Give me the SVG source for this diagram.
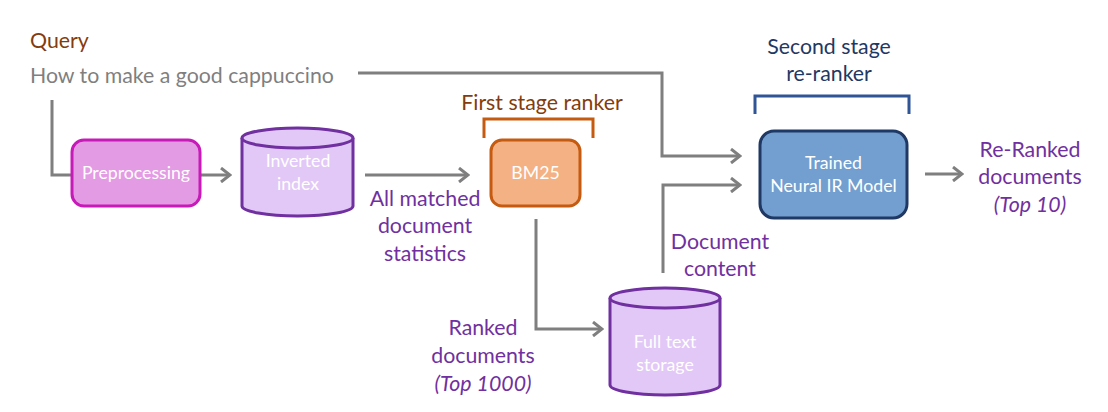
<svg xmlns="http://www.w3.org/2000/svg" width="1108" height="412" viewBox="0 0 1108 412">
<style>
text{font-family:Lato,"Open Sans","DejaVu Sans",sans-serif;}
.lbl{font-size:21.3px;fill:#7030a0;text-anchor:middle;}
.it{font-style:italic;}
.wt{font-size:17.7px;fill:#ffffff;text-anchor:middle;}
.conn{fill:none;stroke:#7f7f7f;stroke-width:3;}
</style>
<defs>
<marker id="ah" viewBox="0 0 12 16" refX="10" refY="8" markerWidth="12" markerHeight="16" markerUnits="userSpaceOnUse" orient="auto">
<path d="M1,1 L10,8 L1,15" fill="none" stroke="#7f7f7f" stroke-width="3"/>
</marker>
</defs>
<rect width="1108" height="412" fill="#ffffff"/>
<g id="query">
<text x="30" y="48" style="font-size:21.3px;fill:#843c0c">Query</text>
<text x="30" y="83" style="font-size:21.3px;fill:#7f7f7f">How to make a good cappuccino</text>
</g>
<g id="connectors">
<path class="conn" d="M52,100 V175 H72"/>
<path class="conn" d="M201,175 H230" marker-end="url(#ah)"/>
<path class="conn" d="M365,175 H468" marker-end="url(#ah)"/>
<path class="conn" d="M536,219 V329 H602" marker-end="url(#ah)"/>
<path class="conn" d="M358,73 H662 V156 H740" marker-end="url(#ah)"/>
<path class="conn" d="M663,273 V185 H740" marker-end="url(#ah)"/>
<path class="conn" d="M925,174 H962" marker-end="url(#ah)"/>
</g>
<g id="preprocessing">
<rect x="72" y="140" width="128" height="66" rx="12" fill="#e39be3" stroke="#c71ab9" stroke-width="3"/>
<text class="wt" x="136" y="179">Preprocessing</text>
</g>
<g id="inverted-index">
<path d="M242,138 V206 A55.5,10 0 0 0 353,206 V138" fill="#e2c8f6" stroke="#7030a0" stroke-width="3"/>
<ellipse cx="297.5" cy="138" rx="55.5" ry="10" fill="#e2c8f6" stroke="#7030a0" stroke-width="3"/>
<text class="wt" x="298" y="167">Inverted</text>
<text class="wt" x="298" y="190">index</text>
</g>
<g id="all-matched">
<text class="lbl" x="425" y="206">All matched</text>
<text class="lbl" x="425" y="233">document</text>
<text class="lbl" x="425" y="261">statistics</text>
</g>
<g id="first-stage">
<text x="542" y="110" style="font-size:21.3px;fill:#843c0c;text-anchor:middle">First stage ranker</text>
<path d="M484,138 V119 H593 V138" fill="none" stroke="#c55a11" stroke-width="3"/>
</g>
<g id="bm25">
<rect x="491" y="140" width="89" height="66" rx="11" fill="#f4b183" stroke="#c55a11" stroke-width="3"/>
<text class="wt" x="535.5" y="179">BM25</text>
</g>
<g id="ranked-docs">
<text class="lbl" x="483" y="335">Ranked</text>
<text class="lbl" x="483" y="363">documents</text>
<text class="lbl it" x="483" y="391">(Top 1000)</text>
</g>
<g id="full-text-storage">
<path d="M610,298 V385 A55,10 0 0 0 720,385 V298" fill="#e2c8f6" stroke="#7030a0" stroke-width="3"/>
<ellipse cx="665" cy="298" rx="55" ry="10" fill="#e2c8f6" stroke="#7030a0" stroke-width="3"/>
<text class="wt" x="665" y="348">Full text</text>
<text class="wt" x="665" y="371">storage</text>
</g>
<g id="doc-content">
<text class="lbl" x="720" y="249">Document</text>
<text class="lbl" x="720" y="276">content</text>
</g>
<g id="second-stage">
<text x="829" y="54" style="font-size:21.3px;fill:#1f3864;text-anchor:middle">Second stage</text>
<text x="829" y="81" style="font-size:21.3px;fill:#1f3864;text-anchor:middle">re-ranker</text>
<path d="M755,114 V96 H909 V114" fill="none" stroke="#2f5597" stroke-width="3"/>
</g>
<g id="neural-ir">
<rect x="760" y="131" width="147" height="87" rx="14" fill="#729fcf" stroke="#1f3864" stroke-width="3"/>
<text class="wt" x="833.5" y="169">Trained</text>
<text class="wt" x="833.5" y="192">Neural IR Model</text>
</g>
<g id="reranked">
<text class="lbl" x="1030" y="157">Re-Ranked</text>
<text class="lbl" x="1030" y="184">documents</text>
<text class="lbl it" x="1030" y="212">(Top 10)</text>
</g>
</svg>
